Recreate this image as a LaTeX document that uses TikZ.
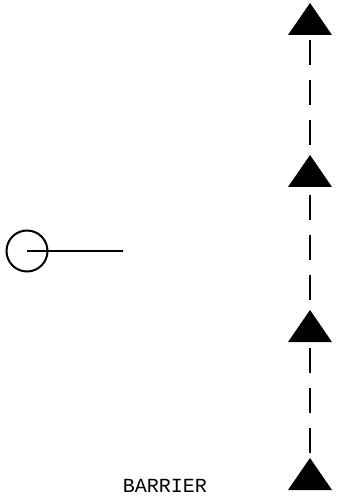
\documentclass[tikz,border=0pt]{standalone}
\usepackage{fontspec}
\setmonofont{Liberation Mono}
\usetikzlibrary{calc}

\tikzset{
    post/.pic={\fill (-22,0) -- (22,0) -- (0,-32) -- cycle;},
    fence/.style={line width=1pt, dash pattern=on 12.5pt off 7.5pt},
}

\begin{document}
\begin{tikzpicture}[x=0.5pt, y=-0.5pt]
    \useasboundingbox (0,0) rectangle (336,496);

    % Observateur et sa ligne de visée
    \node[draw, circle, line width=1pt, minimum size=20.5pt, inner sep=0pt] (obs) at (27,251) {};
    \coordinate (sight) at (123,251);
    \draw[line width=1pt] (obs.center) -- (sight);

    % Poteaux de la barrière (base des triangles)
    \coordinate (p1) at (310,35);
    \coordinate (p2) at (310,187);
    \coordinate (p3) at (310,342);
    \coordinate (p4) at (310,490);
    \foreach \p in {p1,p2,p3,p4}
        \pic at (\p) {post};

    % Tirets entre les poteaux
    \draw[fence] ($(p1)+(0,5)$) -- ($(p2)+(0,-36)$);
    \draw[fence] ($(p2)+(0,8)$) -- ($(p3)+(0,-36)$);
    \draw[fence] ($(p3)+(0,6)$) -- ($(p4)+(0,-36)$);

    \node[font=\ttfamily\fontsize{10}{12}\selectfont, inner sep=0pt] (label) at (165,486) {BARRIER};
\end{tikzpicture}
\end{document}
